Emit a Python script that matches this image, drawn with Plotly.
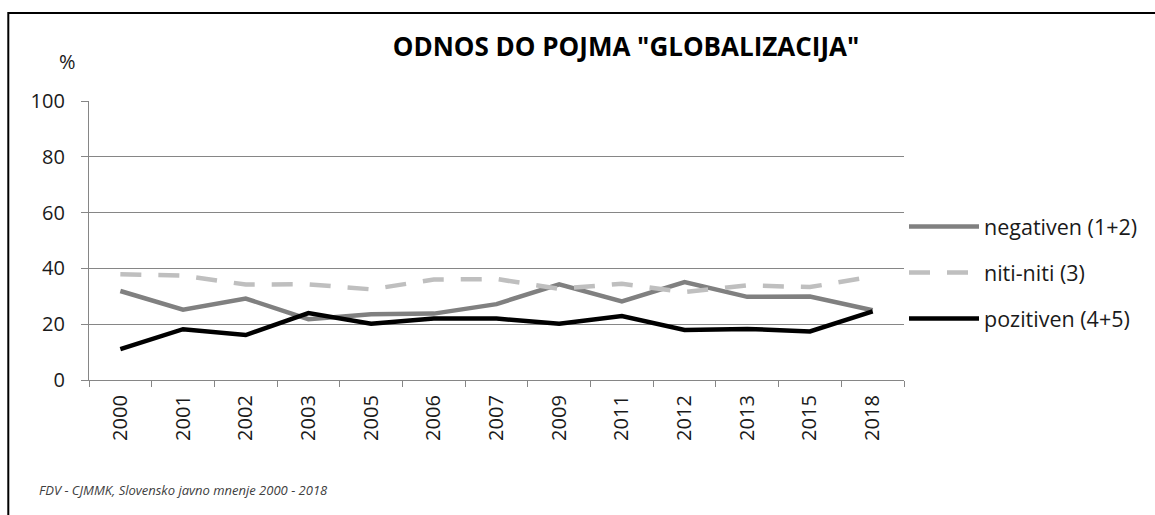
import plotly.graph_objects as go

years = ["2000", "2001", "2002", "2003", "2005", "2006", "2007", "2009", "2011", "2012", "2013", "2015", "2018"]
negativen = [31.9, 25.2, 29.2, 21.8, 23.6, 23.8, 27.2, 34.3, 28.2, 35.1, 29.8, 29.9, 25.0]
niti_niti = [37.9, 37.4, 34.2, 34.3, 32.5, 36.0, 36.2, 32.7, 34.5, 31.5, 33.9, 33.3, 37.1]
pozitiven = [11.1, 18.2, 16.1, 24.0, 20.2, 22.0, 22.0, 20.2, 22.9, 17.9, 18.3, 17.4, 24.6]

series_names = ["negativen (1+2)", "niti-niti (3)", "pozitiven (4+5)"]
y_ticks = [0, 20, 40, 60, 80, 100]

FONT = "Open Sans"
fig = go.Figure()
fig.add_trace(go.Scatter(x=years, y=negativen, name=series_names[0], mode="lines",
                         line=dict(color="#808080", width=4.5), legendgroup="a"))
fig.add_trace(go.Scatter(x=years, y=niti_niti, name=series_names[1], mode="lines",
                         line=dict(color="#BFBFBF", width=4.5, dash="21px,17px"), legendgroup="b"))
fig.add_trace(go.Scatter(x=years, y=pozitiven, name=series_names[2], mode="lines",
                         line=dict(color="#000000", width=4.5), legendgroup="c"))

W, H = 1155, 515
L, R, T, B = 89, 907, 101, 380
pw, ph = R - L, B - T

def px_x(p):
    return (p - L) / pw

def px_y(p):
    return (B - p) / ph

fig.update_layout(
    width=W, height=H,
    margin=dict(l=L, r=W - R, t=T, b=H - B),
    paper_bgcolor="white", plot_bgcolor="white",
    font=dict(family=FONT, size=20, color="#1a1a1a"),
    title=dict(text='<b>ODNOS DO POJMA "GLOBALIZACIJA"</b>', x=px_x(628), xanchor="center",
               xref="paper", y=1 - 47 / H, yanchor="middle",
               font=dict(family=FONT, size=26, color="#000000")),
    showlegend=True,
    legend=dict(x=px_x(907), xanchor="left", y=px_y(206), yanchor="top",
                font=dict(family=FONT, size=21.5, color="#1a1a1a"),
                tracegroupgap=15, itemwidth=70, bgcolor="rgba(0,0,0,0)"),
    xaxis=dict(type="category", range=[-0.5, len(years) - 0.5], showgrid=False, showline=True,
               linecolor="#868686", linewidth=1.3,
               ticks="outside", tickson="boundaries", ticklen=6, tickcolor="#868686",
               tickangle=-90, tickfont=dict(size=20, color="#1a1a1a"), zeroline=False,
               ticklabelstandoff=6),
    yaxis=dict(range=[0, 100], tickvals=y_ticks, showgrid=True, gridcolor="#868686", gridwidth=1.3,
               showline=True, linecolor="#868686", linewidth=1.3, ticks="outside", ticklen=7,
               tickcolor="#868686", tickfont=dict(size=20, color="#1a1a1a"), zeroline=False,
               ticklabelstandoff=12),
    shapes=[dict(type="rect", xref="paper", yref="paper",
                 x0=px_x(8), x1=px_x(1170), y0=px_y(13), y1=px_y(530),
                 line=dict(color="black", width=2), fillcolor="rgba(0,0,0,0)", layer="below")],
    annotations=[
        dict(text="%", xref="paper", yref="paper", x=px_x(67), y=px_y(62), xanchor="center",
             yanchor="middle", showarrow=False, font=dict(size=20, color="#1a1a1a")),
        dict(text="<i>FDV - CJMMK, Slovensko javno mnenje 2000 - 2018</i>", xref="paper", yref="paper",
             x=px_x(37), y=px_y(490), xanchor="left", yanchor="middle", showarrow=False,
             font=dict(size=13, color="#404040")),
    ],
)

fig.write_html("out.html", config={"displayModeBar": False},
               post_script="document.body.style.margin='0';document.body.style.overflow='hidden';")
